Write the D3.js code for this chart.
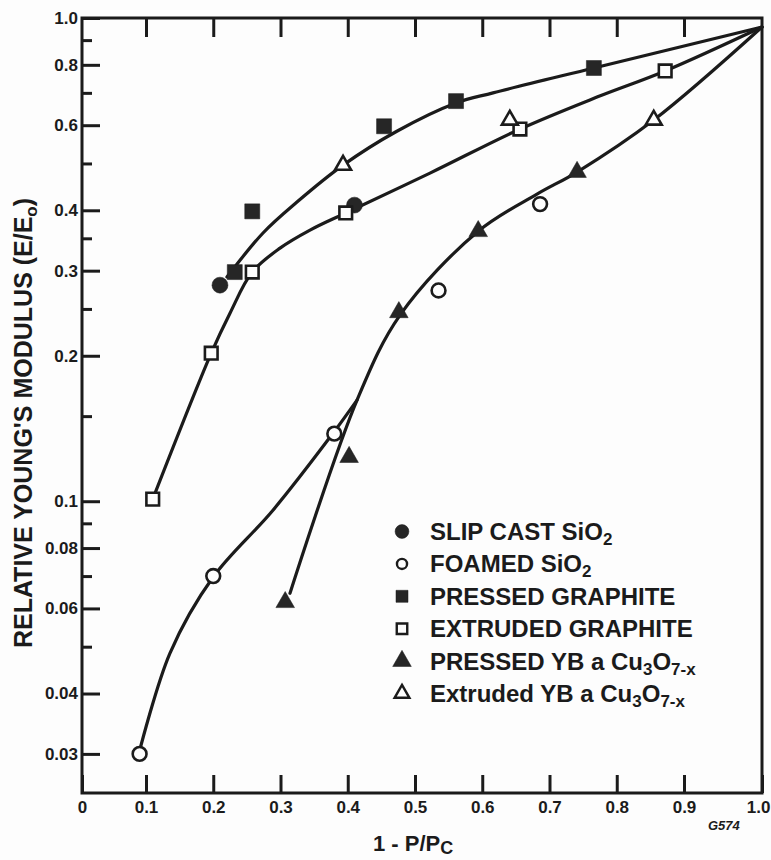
<!DOCTYPE html>
<html>
<head>
<meta charset="utf-8">
<script src="https://cdn.jsdelivr.net/npm/d3@7"></script>
<style>
    body { margin: 0; background: #fdfdfd; }
    text { font-family: "Liberation Sans", Arial, Helvetica, sans-serif; }
</style>
</head>
<body>
<div id="chart"></div>
<script>
// values, each point is [1 - P/Pc, E/Eo]
const slipCast = [[0.21, 0.28], [0.41, 0.41]];
const foamed = [[0.09, 0.030], [0.20, 0.070], [0.38, 0.138], [0.535, 0.273], [0.686, 0.412]];
const pressedGraphite = [[0.232, 0.298], [0.258, 0.398], [0.454, 0.597], [0.561, 0.673], [0.766, 0.788]];
const extrudedGraphite = [[0.11, 0.101], [0.197, 0.2025], [0.258, 0.298], [0.397, 0.395], [0.656, 0.589], [0.872, 0.777]];
const pressedYB = [[0.307, 0.0618], [0.402, 0.1234], [0.476, 0.246], [0.594, 0.362], [0.741, 0.48]];
const extrudedYB = [[0.393, 0.496], [0.641, 0.615], [0.855, 0.615]];

// hand drawn fit curves, knots
const curveUpper = [[0.2204, 0.291], [0.274, 0.359], [0.3245, 0.416], [0.393, 0.496], [0.473, 0.583], [0.561, 0.667], [0.616, 0.70], [0.766, 0.788], [1.0, 0.958]];
const curveGraphite = [[0.11, 0.101], [0.197, 0.2025], [0.2249, 0.245], [0.258, 0.298], [0.2993, 0.334], [0.3439, 0.364], [0.397, 0.395], [0.5223, 0.4776], [0.656, 0.589], [0.7706, 0.686], [0.872, 0.777], [1.0, 0.958]];
const curveYB = [[0.3141, 0.0645], [0.4138, 0.1619], [0.478, 0.243], [0.594, 0.362], [0.6814, 0.432], [0.741, 0.48], [0.855, 0.615], [1.0, 0.958]];
const curveFoamed = [[0.089, 0.0301], [0.1357, 0.0485], [0.1996, 0.0696], [0.2888, 0.0958], [0.378, 0.1382], [0.4138, 0.1619]];

// tick values and labels
const xTicks = [0, 0.1, 0.2, 0.3, 0.4, 0.5, 0.6, 0.7, 0.8, 0.9, 1.0];
const xTickLabels = ["0", "0.1", "0.2", "0.3", "0.4", "0.5", "0.6", "0.7", "0.8", "0.9", "1.0"];
const yTicks = [1.0, 0.8, 0.6, 0.4, 0.3, 0.2, 0.1, 0.08, 0.06, 0.04, 0.03];
const yTickLabels = ["1.0", "0.8", "0.6", "0.4", "0.3", "0.2", "0.1", "0.08", "0.06", "0.04", "0.03"];
const yMinorTicks = [0.9, 0.7, 0.5, 0.35, 0.25, 0.15, 0.09, 0.07, 0.05];

const svgWidth = 771;
const svgHeight = 860;
const frame = { left: 82, top: 18, right: 762, bottom: 793 };
const ink = "#1b1b1b";
const paper = "#fdfdfd";

const svg = d3.select("#chart")
    .append("svg")
    .attr("width", svgWidth)
    .attr("height", svgHeight);

svg.append("rect")
    .attr("width", svgWidth)
    .attr("height", svgHeight)
    .attr("fill", paper);

// the original tick spacing is a bit uneven near the ends, so polylinear
const x = d3.scaleLinear()
    .domain([0, 0.1, 0.9, 1.0])
    .range([frame.left, 146, 684, frame.right]);

const y = d3.scaleLog()
    .domain([0.0249, 1])
    .range([frame.bottom, frame.top]);

function styleAxis(g, size) {
    g.select(".domain").remove();
    g.selectAll(".tick line").attr("stroke", ink).attr("stroke-width", 3);
    g.attr("font-size", size)
        .attr("font-family", "'Liberation Sans', Arial, sans-serif")
        .attr("font-weight", "bold")
        .attr("fill", ink);
    g.selectAll("text").attr("fill", ink);
}

// bottom axis, ticks point inward
const xAxisG = svg.append("g")
    .attr("transform", `translate(0,${frame.bottom})`)
    .call(d3.axisBottom(x).tickValues(xTicks).tickSize(-18).tickPadding(8)
        .tickFormat((d, i) => xTickLabels[i]))
    .call(g => styleAxis(g, 17));
// last label sits against the page edge
xAxisG.selectAll(".tick text").filter(d => d === 1.0)
    .attr("text-anchor", "end")
    .attr("x", 8);

// top axis, ticks only
svg.append("g")
    .attr("transform", `translate(0,${frame.top})`)
    .call(d3.axisTop(x).tickValues(xTicks.slice(1, -1)).tickSize(-19).tickFormat(""))
    .call(g => styleAxis(g, 17));

// left axis major + minor
svg.append("g")
    .attr("transform", `translate(${frame.left},0)`)
    .call(d3.axisLeft(y).tickValues(yTicks).tickSize(-18).tickPadding(4)
        .tickFormat((d, i) => yTickLabels[i]))
    .call(g => styleAxis(g, 17));

svg.append("g")
    .attr("transform", `translate(${frame.left},0)`)
    .call(d3.axisLeft(y).tickValues(yMinorTicks).tickSize(-10).tickFormat(""))
    .call(g => styleAxis(g, 17));

// frame
svg.append("rect")
    .attr("x", frame.left)
    .attr("y", frame.top)
    .attr("width", frame.right - frame.left)
    .attr("height", frame.bottom - frame.top)
    .attr("fill", "none")
    .attr("stroke", ink)
    .attr("stroke-width", 3);

// fitted curves
const line = d3.line()
    .x(d => x(d[0]))
    .y(d => y(d[1]))
    .curve(d3.curveCatmullRom.alpha(0.5));

[curveUpper, curveGraphite, curveYB, curveFoamed].forEach(c => {
    svg.append("path")
        .datum(c)
        .attr("d", line)
        .attr("fill", "none")
        .attr("stroke", ink)
        .attr("stroke-width", 3.2)
        .attr("stroke-linecap", "round")
        .attr("stroke-linejoin", "round");
});

// marker styles: symbol, area, filled or open
const markerStyles = {
    slipCast: { type: d3.symbolCircle, size: 200, filled: true },
    foamed: { type: d3.symbolCircle, size: 150, filled: false },
    pressedGraphite: { type: d3.symbolSquare, size: 225, filled: true },
    extrudedGraphite: { type: d3.symbolSquare, size: 160, filled: false },
    pressedYB: { type: d3.symbolTriangle, size: 150, filled: true },
    extrudedYB: { type: d3.symbolTriangle, size: 110, filled: false }
};

function drawMarkers(data, key) {
    const st = markerStyles[key];
    svg.append("g")
        .selectAll("path")
        .data(data)
        .enter()
        .append("path")
        .attr("d", d3.symbol().type(st.type).size(st.size))
        .attr("transform", d => `translate(${x(d[0])},${y(d[1])})`)
        .attr("fill", st.filled ? "#262626" : paper)
        .attr("stroke", ink)
        .attr("stroke-width", st.filled ? 0.5 : 2.6);
}

drawMarkers(slipCast, "slipCast");
drawMarkers(pressedGraphite, "pressedGraphite");
drawMarkers(pressedYB, "pressedYB");
drawMarkers(foamed, "foamed");
drawMarkers(extrudedGraphite, "extrudedGraphite");
drawMarkers(extrudedYB, "extrudedYB");

// legend, text pieces with subscripts flagged
const legendKeys = ["slipCast", "foamed", "pressedGraphite", "extrudedGraphite", "pressedYB", "extrudedYB"];
const legendLabels = [
    [["SLIP CAST SiO", 0], ["2", 1]],
    [["FOAMED SiO", 0], ["2", 1]],
    [["PRESSED GRAPHITE", 0]],
    [["EXTRUDED GRAPHITE", 0]],
    [["PRESSED YB a Cu", 0], ["3", 1], ["O", 0], ["7-x", 1]],
    [["Extruded YB a Cu", 0], ["3", 1], ["O", 0], ["7-x", 1]]
];
const legendSizes = [150, 80, 144, 110, 150, 95];

const legend = svg.append("g");
legendKeys.forEach((key, i) => {
    const base = 540 + i * 32.4;
    const st = markerStyles[key];
    legend.append("path")
        .attr("d", d3.symbol().type(st.type).size(legendSizes[i]))
        .attr("transform", `translate(402,${base - 8.5})`)
        .attr("fill", st.filled ? "#262626" : paper)
        .attr("stroke", ink)
        .attr("stroke-width", st.filled ? 0.5 : 2.4);

    const t = legend.append("text")
        .attr("x", 430)
        .attr("y", base)
        .attr("font-size", 24)
        .attr("font-weight", "bold")
        .attr("fill", ink);
    let lowered = false;
    legendLabels[i].forEach(p => {
        const sp = t.append("tspan").text(p[0]);
        if (p[1] && !lowered) { sp.attr("dy", 5).attr("font-size", 17); lowered = true; }
        else if (p[1]) { sp.attr("font-size", 17); }
        else if (lowered) { sp.attr("dy", -5); lowered = false; }
    });
});

// axis titles
const yTitle = svg.append("text")
    .attr("transform", `translate(32,423) rotate(-90)`)
    .attr("text-anchor", "middle")
    .attr("font-size", 25)
    .attr("font-weight", "bold")
    .attr("fill", ink);
yTitle.append("tspan").text("RELATIVE YOUNG'S MODULUS (E/E");
yTitle.append("tspan").text("o").attr("font-size", 17).attr("dy", 5);
yTitle.append("tspan").text(")").attr("dy", -5);

const xTitle = svg.append("text")
    .attr("x", 373)
    .attr("y", 851)
    .attr("font-size", 22)
    .attr("font-weight", "bold")
    .attr("fill", ink);
xTitle.append("tspan").text("1 - P/P");
xTitle.append("tspan").text("C").attr("font-size", 18).attr("dy", 3);

svg.append("text")
    .text("G574")
    .attr("x", 708)
    .attr("y", 830)
    .attr("font-size", 13)
    .attr("font-style", "italic")
    .attr("font-weight", "bold")
    .attr("fill", ink);
</script>
</body>
</html>
